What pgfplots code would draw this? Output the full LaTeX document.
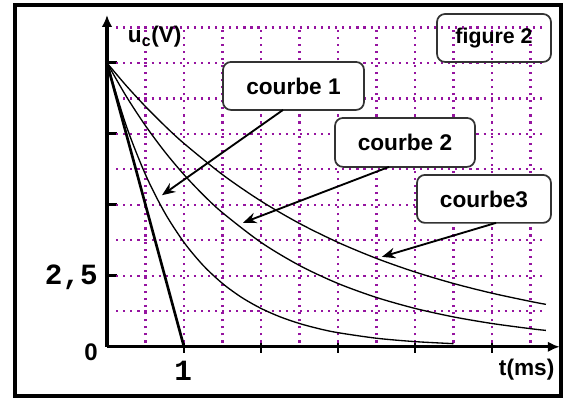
\documentclass[border=0pt]{standalone}
\usepackage{pgfplots}
\pgfplotsset{compat=1.18}
\usepackage{fontspec}
\setmainfont{Liberation Sans}
\newfontfamily\mono{Liberation Mono}
\usetikzlibrary{arrows.meta}

\definecolor{gridpurple}{RGB}{150,20,160}

% u_c(t) = 10 exp(-t/tau)
\pgfplotstableread{
t u
0    10
0.25 7.788
0.5  6.065
0.75 4.724
1    3.679
1.25 2.865
1.5  2.231
1.75 1.738
2    1.353
2.25 1.054
2.5  0.821
2.75 0.639
3    0.498
3.5  0.302
4    0.183
4.5  0.111
}\courbeA
\pgfplotstableread{
t u
0    10
0.25 8.825
0.5  7.788
0.75 6.873
1    6.065
1.25 5.353
1.5  4.724
2    3.679
2.5  2.865
3    2.231
3.5  1.738
4    1.353
4.5  1.054
5    0.821
5.5  0.639
5.7  0.578
}\courbeB
\pgfplotstableread{
t u
0    10
0.25 9.200
0.5  8.465
0.75 7.788
1    7.165
1.5  6.065
2    5.134
2.5  4.346
3    3.679
3.5  3.114
4    2.636
4.5  2.231
5    1.889
5.5  1.599
5.7  1.496
}\courbeC

\begin{document}
\begin{tikzpicture}[
  boxed/.style={draw=black!80, line width=1.3pt, rounded corners=6pt},
  pointer/.style={line width=1.4pt, -{Stealth[length=10pt,width=8pt]}},
  lbl/.style={font=\bfseries\fontsize{17}{19}\selectfont},
  griddot/.style={gridpurple, line width=1.6pt, dash pattern=on 1.6pt off 3.7pt},
]
\begin{axis}[
  scale only axis,
  width=339.75pt, height=249pt,
  xmin=0, xmax=5.88, ymin=0, ymax=11.69,
  clip=false,
  axis lines=left,
  axis line style={line width=2.4pt, -{Latex[length=9pt,width=8pt]}},
  xtick={1,2,3,4,5}, ytick={2.5,5,7.5,10},
  xticklabels={}, yticklabels={},
  tick align=center,
  major tick length=9pt,
  tick style={line width=2.2pt, black},
  ytick style={xshift=3pt},
]
% bounding box of the whole picture
\path (axis cs:-1.3896,-1.7958) rectangle (axis cs:5.987,12.218);
% outer frame
\draw[line width=2.8pt] (axis cs:-1.195,-1.725) rectangle (axis cs:5.896,12.042);

% dotted purple grid
\pgfplotsinvokeforeach{0.5,1,1.5,2,2.5,3,3.5,4,4.5,5,5.5}{
  \draw[griddot] (axis cs:#1,0.15) -- (axis cs:#1,11.25);
}
\pgfplotsinvokeforeach{1.25,2.5,3.75,5,6.25,7.5,8.75,10,11.25}{
  \draw[griddot] (axis cs:0.12,#1) -- (axis cs:5.68,#1);
}

% tangent at the origin
\addplot[black, line width=2pt] coordinates {(0,10) (1,0)};
\addplot[black, line width=1pt, smooth] table[x=t,y=u] {\courbeA};
\addplot[black, line width=1pt, smooth] table[x=t,y=u] {\courbeB};
\addplot[black, line width=1pt, smooth] table[x=t,y=u] {\courbeC};

% labels
\node[lbl] at (axis cs:0.62,10.92) {u\textsubscript{c}(V)};
\node[lbl] at (axis cs:5.45,-0.81) {t(ms)};
\node[font=\bfseries\fontsize{18}{20}\selectfont] at (axis cs:-0.208,-0.18) {0};
\node[anchor=east, inner sep=0pt, font=\mono\bfseries\fontsize{22}{24}\selectfont] at (axis cs:-0.117,2.45) {2,5};
\node[font=\mono\bfseries\fontsize{22}{24}\selectfont] at (axis cs:0.99,-0.86) {1};

% boxes and pointers
\draw[boxed, fill=white] (axis cs:1.506,8.345) rectangle (axis cs:3.338,10.035);
\node[lbl] at (axis cs:2.422,9.19) {courbe 1};
\draw[boxed, fill=white] (axis cs:2.961,6.338) rectangle (axis cs:4.779,8.063);
\node[lbl] at (axis cs:3.87,7.2) {courbe 2};
\draw[boxed, fill=white] (axis cs:4.026,4.366) rectangle (axis cs:5.766,6.056);
\node[lbl] at (axis cs:4.896,5.21) {courbe3};
\draw[boxed] (axis cs:4.286,10.035) rectangle (axis cs:5.766,11.725);
\node[font=\bfseries\fontsize{16}{18}\selectfont] at (axis cs:5.026,10.88) {figure 2};

\draw[pointer] (axis cs:2.286,8.345) -- (axis cs:0.714,5.34);
\draw[pointer] (axis cs:3.662,6.338) -- (axis cs:1.766,4.37);
\draw[pointer] (axis cs:5.052,4.366) -- (axis cs:3.571,3.169);
\end{axis}
\end{tikzpicture}
\end{document}
